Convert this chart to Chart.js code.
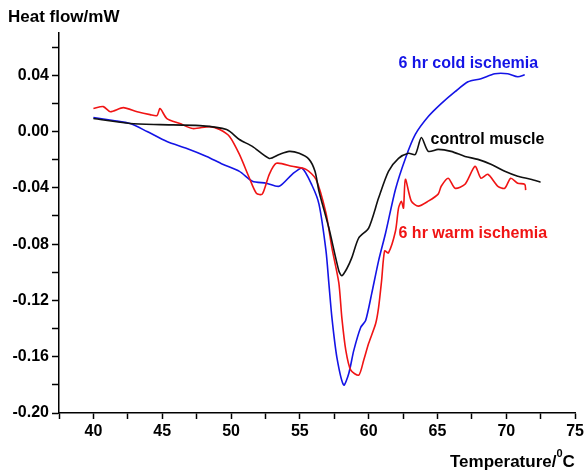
<!DOCTYPE html>
<html>
<head>
<meta charset="utf-8">
<script src="https://cdn.jsdelivr.net/npm/chart.js@4.4.1/dist/chart.umd.min.js"></script>
<style>
  html, body { margin: 0; padding: 0; background: #fff; }
  #wrap { width: 587px; height: 472px; position: relative; }
</style>
</head>
<body>
<div id="wrap"><canvas id="dscChart"></canvas></div>
<script>
// ===== DATA =====
const tempControl = [40.0, 42.67, 44.84, 47.73, 49.68, 50.61, 51.55, 52.78, 53.5, 54.22, 54.95, 55.67, 56.1, 56.39, 57.11, 57.83, 58.05, 58.41, 58.77, 59.28, 60.0, 60.72, 61.44, 62.17, 62.89, 63.39, 63.83, 64.33, 65.05, 65.99, 67.0, 67.94, 68.88, 69.89, 70.83, 71.77, 72.49];
const heatControl = [0.0092, 0.0057, 0.0049, 0.0042, 0.0014, -0.0057, -0.0106, -0.0191, -0.0163, -0.0141, -0.0155, -0.0198, -0.0283, -0.0424, -0.0686, -0.0989, -0.1025, -0.0975, -0.0898, -0.0756, -0.0686, -0.0473, -0.0283, -0.0191, -0.0155, -0.0163, -0.0042, -0.0141, -0.0127, -0.0141, -0.0177, -0.0198, -0.0233, -0.0283, -0.0318, -0.0339, -0.036];

const tempWarm = [40.0, 40.72, 41.23, 42.17, 43.18, 44.12, 44.62, 44.84, 45.34, 46.28, 47.22, 48.45, 49.17, 49.89, 50.61, 51.34, 51.84, 52.27, 52.78, 53.29, 54.44, 55.45, 56.17, 56.9, 57.33, 57.83, 58.05, 58.34, 58.7, 59.28, 59.64, 60.0, 60.51, 60.72, 60.94, 61.16, 61.44, 61.95, 62.17, 62.38, 62.53, 62.67, 63.1, 63.61, 64.33, 65.05, 65.27, 65.78, 66.28, 67.0, 67.73, 68.16, 68.66, 69.39, 69.89, 70.32, 70.83, 71.34, 71.41];
const heatWarm = [0.0163, 0.0177, 0.0141, 0.017, 0.0141, 0.012, 0.0113, 0.0163, 0.0092, 0.0057, 0.0021, 0.0035, 0.0014, -0.0035, -0.0163, -0.0332, -0.0438, -0.0445, -0.0304, -0.0226, -0.0247, -0.0269, -0.0339, -0.058, -0.0827, -0.1074, -0.1322, -0.1555, -0.1696, -0.1731, -0.1625, -0.1505, -0.1364, -0.1251, -0.106, -0.0848, -0.0862, -0.0707, -0.0544, -0.0495, -0.0544, -0.0339, -0.0495, -0.053, -0.0495, -0.0445, -0.0389, -0.0332, -0.0403, -0.0375, -0.0247, -0.0332, -0.0304, -0.0389, -0.0403, -0.0332, -0.0367, -0.0375, -0.0417];

const tempCold = [40.0, 41.44, 42.67, 43.9, 45.34, 46.79, 48.23, 49.39, 50.61, 51.55, 52.56, 53.5, 54.44, 55.16, 55.88, 56.39, 56.9, 57.11, 57.33, 57.69, 58.19, 58.56, 58.92, 59.42, 59.78, 60.22, 60.72, 61.23, 61.95, 62.67, 63.39, 64.33, 65.27, 66.28, 67.22, 68.16, 69.17, 70.11, 70.83, 71.34];
const heatCold = [0.0099, 0.0078, 0.0057, 0.0, -0.0071, -0.012, -0.0177, -0.0233, -0.0283, -0.0353, -0.0367, -0.0389, -0.0304, -0.0261, -0.0382, -0.0516, -0.0848, -0.1081, -0.1322, -0.1604, -0.1802, -0.1717, -0.1555, -0.1392, -0.1343, -0.1152, -0.0919, -0.0721, -0.041, -0.0191, -0.0021, 0.0106, 0.0198, 0.0283, 0.0353, 0.0375, 0.041, 0.041, 0.0389, 0.0403];

const seriesNames = ['control muscle', '6 hr warm ischemia', '6 hr cold ischemia'];

const FONT = 'Liberation Sans, Arial, Helvetica, sans-serif';

function pts(xs, ys) {
    return xs.map((x, i) => ({ x: x, y: ys[i] }));
}

// in-plot labels + axis titles
const textPlugin = {
    id: 'texts',
    afterDraw(chart) {
        const c = chart.ctx;
        const sx = chart.scales.x, sy = chart.scales.y;
        c.save();
        c.textBaseline = 'alphabetic';
        c.textAlign = 'left';
        c.font = 'bold 16px ' + FONT;

        c.fillStyle = '#1414e6';
        c.fillText(seriesNames[2], sx.getPixelForValue(62.17), sy.getPixelForValue(0.0452));
        c.fillStyle = '#000';
        c.fillText(seriesNames[0], sx.getPixelForValue(64.5), sy.getPixelForValue(-0.0092));
        c.fillStyle = '#f01414';
        c.fillText(seriesNames[1], sx.getPixelForValue(62.17), sy.getPixelForValue(-0.0757));

        // axis titles
        c.fillStyle = '#000';
        c.font = 'bold 17px ' + FONT;
        c.fillText('Heat flow/mW', 8, 22);

        const base = 467;
        let x = 450;
        c.fillText('Temperature/', x, base);
        x += c.measureText('Temperature/').width;
        c.font = 'bold 11px ' + FONT;
        c.fillText('0', x, base - 10);
        x += c.measureText('0').width;
        c.font = 'bold 17px ' + FONT;
        c.fillText('C', x, base);
        c.restore();
    }
};

new Chart(document.getElementById('dscChart'), {
    type: 'scatter',
    data: {
        datasets: [
            { label: seriesNames[0], data: pts(tempControl, heatControl), borderColor: '#111', borderWidth: 1.6 },
            { label: seriesNames[1], data: pts(tempWarm, heatWarm), borderColor: '#f01414', borderWidth: 1.6 },
            { label: seriesNames[2], data: pts(tempCold, heatCold), borderColor: '#1414e6', borderWidth: 1.6 }
        ].map(d => Object.assign(d, { showLine: true, pointRadius: 0, tension: 0.25, fill: false }))
    },
    options: {
        responsive: true,
        maintainAspectRatio: false,
        animation: false,
        layout: { padding: { left: 0, top: 33, right: 10, bottom: 0 } },
        plugins: {
            legend: { display: false },
            tooltip: { enabled: false }
        },
        scales: {
            x: {
                type: 'linear',
                min: 37.5,
                max: 75,
                afterFit: (s) => { s.height = 59; },
                grid: { drawOnChartArea: false, drawTicks: true, tickLength: 6, tickColor: '#000', tickWidth: 1.5 },
                border: { display: true, color: '#000', width: 1.5 },
                ticks: {
                    stepSize: 2.5,
                    autoSkip: false,
                    maxRotation: 0,
                    includeBounds: false,
                    padding: 3,
                    color: '#000',
                    font: { family: FONT, size: 16, weight: 'bold' },
                    callback: (v) => (Math.round(v * 2) % 10 === 0 ? String(Math.round(v)) : '')
                }
            },
            y: {
                min: -0.2,
                max: 0.07,
                afterFit: (s) => { s.width = 59; },
                grid: { drawOnChartArea: false, drawTicks: true, tickLength: 7, tickColor: '#000', tickWidth: 1.5 },
                border: { display: true, color: '#000', width: 1.5 },
                ticks: {
                    stepSize: 0.02,
                    autoSkip: false,
                    includeBounds: false,
                    padding: 3,
                    color: '#000',
                    font: { family: FONT, size: 16, weight: 'bold' },
                    callback: (v) => {
                        const k = Math.round(v * 100);
                        if (k % 4 !== 0) return '';
                        return (k / 100).toFixed(2);
                    }
                }
            }
        }
    },
    plugins: [textPlugin]
});
</script>
</body>
</html>
